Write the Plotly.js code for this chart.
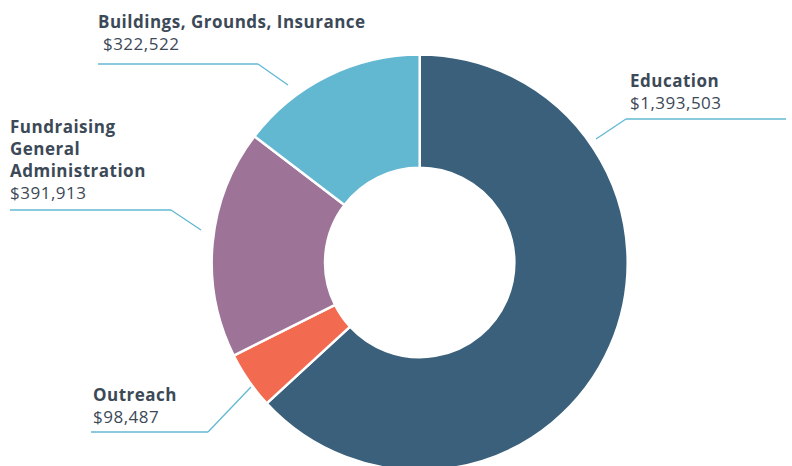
<!DOCTYPE html>
<html>
<head>
<meta charset="utf-8">
<script src="https://cdn.plot.ly/plotly-3.0.1.min.js"></script>
<style>
html,body{margin:0;padding:0;overflow:hidden;background:#fff;}
#chart{width:792px;height:472px;}
.annotation-text{letter-spacing:0.5px;}
</style>
</head>
<body>
<div id="chart"></div>
<script>
// Data
var categories = ["Education", "Outreach", "Fundraising General Administration", "Buildings, Grounds, Insurance"];
var displayNames = ["Education", "Outreach", "Fundraising<br>General<br>Administration", "Buildings, Grounds, Insurance"];
var amounts = [1393503, 98487, 391913, 322522];
var sliceColors = ["#3a607b", "#f26a50", "#9e7398", "#62b8d1"];

var W = 792, H = 472;
function px(x){ return x / W; }
function py(y){ return 1 - y / H; }
function money(v){ return "$" + v.toLocaleString("en-US"); }

var textColor = "#3c4957";
var lineColor = "#62b8d1";
var fontFam = "'Open Sans', 'Noto Sans', sans-serif";

// label placement (pixel coords of block left edge / vertical center)
var labelPos = [
  {x: 628, y: 91, pre: ""},
  {x: 91, y: 405, pre: ""},
  {x: 8, y: 159.7, pre: ""},
  {x: 96, y: 32.7, pre: "\u00a0"}
];
// leader lines: polyline points in px
var leaders = [
  [[596,139],[626,119],[786,119]],
  [[91,432],[208,432],[251,387]],
  [[10,210],[171,210],[201,230]],
  [[98,64],[258,64],[288,85]]
];

var annotations = categories.map(function(c, i){
  return {
    xref: "paper", yref: "paper",
    x: px(labelPos[i].x), y: py(labelPos[i].y),
    xanchor: "left", yanchor: "middle", align: "left",
    showarrow: false,
    text: "<b>" + displayNames[i] + "</b><br>" + labelPos[i].pre + money(amounts[i]),
    font: {family: fontFam, size: 17, color: textColor}
  };
});

var shapes = [];
leaders.forEach(function(pts){
  for (var k = 0; k < pts.length - 1; k++) {
    shapes.push({
      type: "line", xref: "paper", yref: "paper",
      x0: px(pts[k][0]), y0: py(pts[k][1]),
      x1: px(pts[k+1][0]), y1: py(pts[k+1][1]),
      line: {color: lineColor, width: 1.3}
    });
  }
});

var cx = 419.7, cy = 262.5, R = 208;
var trace = {
  type: "pie",
  labels: categories,
  values: amounts,
  sort: false,
  direction: "clockwise",
  rotation: 0,
  hole: 0.455,
  textinfo: "none",
  hoverinfo: "label+value",
  marker: {colors: sliceColors, line: {color: "#ffffff", width: 2.5}},
  domain: {x: [px(cx - R), px(cx + R)], y: [py(cy + R), py(cy - R)]},
  showlegend: false
};

var layout = {
  width: W, height: H,
  margin: {l: 0, r: 0, t: 0, b: 0},
  paper_bgcolor: "#ffffff",
  plot_bgcolor: "#ffffff",
  showlegend: false,
  annotations: annotations,
  shapes: shapes
};

Plotly.newPlot("chart", [trace], layout, {displayModeBar: false, staticPlot: true});
</script>
</body>
</html>
